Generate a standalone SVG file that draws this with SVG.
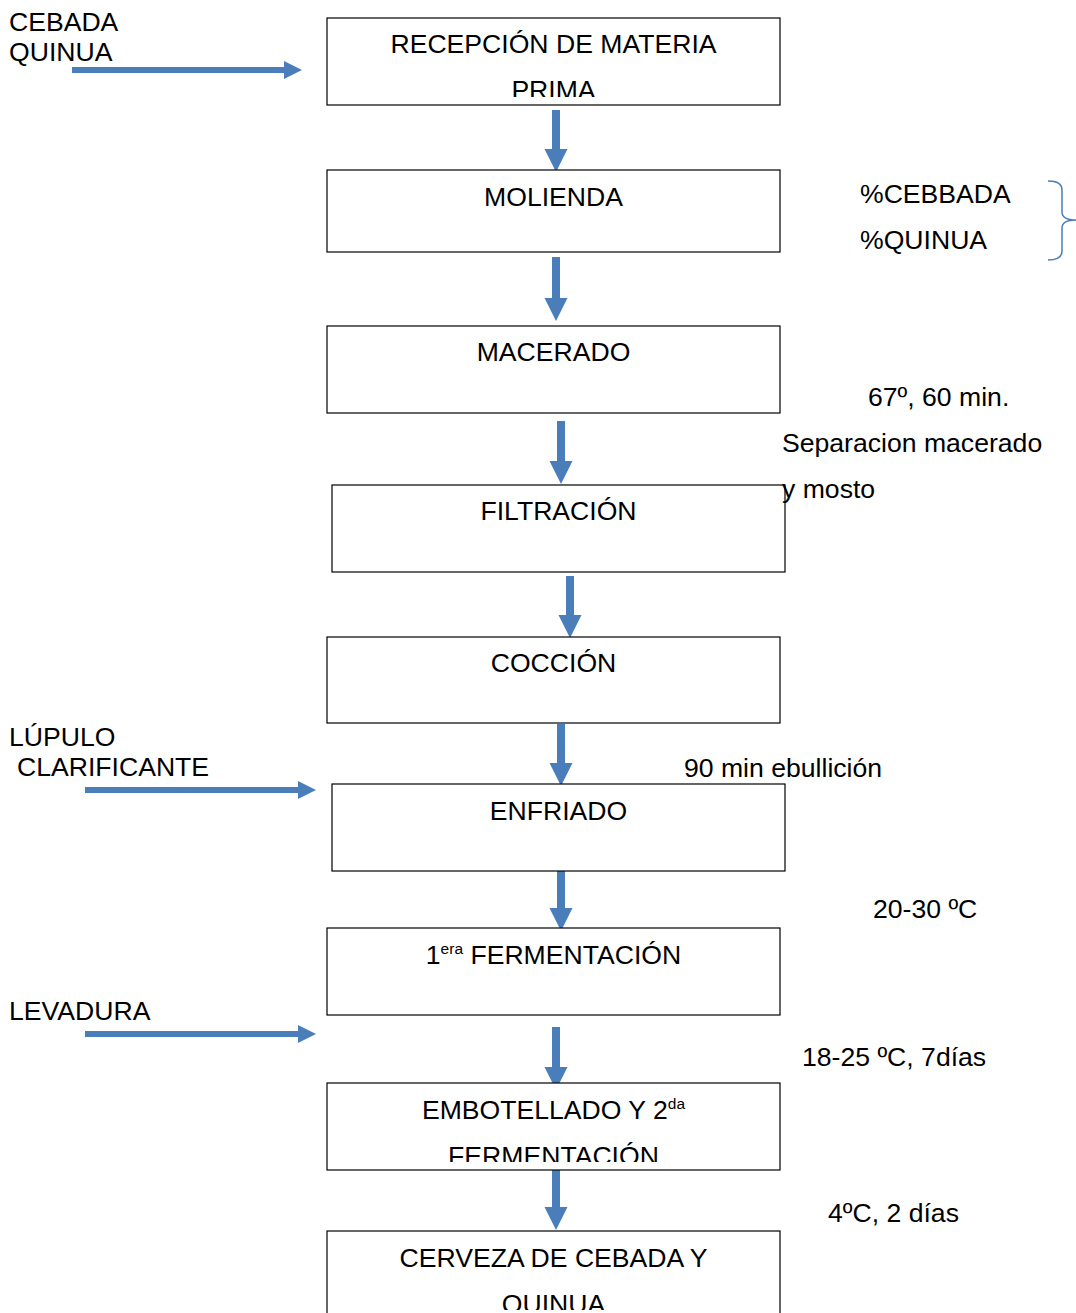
<svg xmlns="http://www.w3.org/2000/svg" width="1076" height="1313" viewBox="0 0 1076 1313">
<style>
text{font-family:"Liberation Sans",Arial,sans-serif;font-size:26.6px;fill:#000}
.c{text-anchor:middle}
.box{fill:#fff;stroke:#000;stroke-width:1.2}
.va{stroke:#4a7ebb;stroke-width:8;fill:none;marker-end:url(#hv)}
.ha{stroke:#4a7ebb;stroke-width:6;fill:none;marker-end:url(#hh)}
.sup{font-size:15.5px}
</style>
<defs>
<marker id="hv" markerUnits="userSpaceOnUse" markerWidth="23" markerHeight="24" refX="1" refY="12" orient="auto" viewBox="0 0 23 24"><path d="M0,0.5 L23,12 L0,23.5 z" fill="#4a7ebb"/></marker>
<marker id="hh" markerUnits="userSpaceOnUse" markerWidth="18" markerHeight="19" refX="1" refY="9.5" orient="auto" viewBox="0 0 18 19"><path d="M0,0.5 L18,9.5 L0,18.5 z" fill="#4a7ebb"/></marker>
<clipPath id="cp1"><rect x="327" y="18" width="453" height="79"/></clipPath>
<clipPath id="cp8"><rect x="327" y="1083" width="453" height="79"/></clipPath>
<clipPath id="cp9"><rect x="327" y="1231" width="453" height="79"/></clipPath>
</defs>

<g id="connectors">
<line class="va" x1="556" y1="110" x2="556" y2="150"/>
<line class="va" x1="556" y1="257" x2="556" y2="299"/>
<line class="va" x1="561" y1="421" x2="561" y2="462"/>
<line class="va" x1="570" y1="576" x2="570" y2="616"/>
<line class="va" x1="561" y1="724" x2="561" y2="764"/>
<line class="va" x1="561" y1="868" x2="561" y2="909"/>
<line class="va" x1="556" y1="1027" x2="556" y2="1068"/>
<line class="va" x1="556" y1="1167" x2="556" y2="1208"/>
<line class="ha" x1="72" y1="70" x2="285" y2="70"/>
<line class="ha" x1="85" y1="790" x2="299" y2="790"/>
<line class="ha" x1="85" y1="1034" x2="299" y2="1034"/>
<path d="M1048,181 Q1062,181 1062,190 L1062,212 Q1062,220 1076,220 Q1062,220 1062,228 L1062,251 Q1062,260 1048,260" fill="none" stroke="#4a7ebb" stroke-width="1.5"/>
</g>

<g id="n1"><rect class="box" x="327" y="18" width="453" height="87"/>
<g clip-path="url(#cp1)"><text class="c" x="553.5" y="53">RECEPCIÓN DE MATERIA</text><text class="c" x="553.5" y="99">PRIMA</text></g></g>
<g id="n2"><rect class="box" x="327" y="170" width="453" height="82"/><text class="c" x="553.5" y="206">MOLIENDA</text></g>
<g id="n3"><rect class="box" x="327" y="326" width="453" height="87"/><text class="c" x="553.5" y="361">MACERADO</text></g>
<g id="n4"><rect class="box" x="332" y="485" width="453" height="87"/><text class="c" x="558.5" y="520">FILTRACIÓN</text></g>
<g id="n5"><rect class="box" x="327" y="637" width="453" height="86"/><text class="c" x="553.5" y="672">COCCIÓN</text></g>
<g id="n6"><rect class="box" x="332" y="784" width="453" height="87"/><text class="c" x="558.5" y="820">ENFRIADO</text></g>
<g id="n7"><rect class="box" x="327" y="928" width="453" height="87"/><text class="c" x="553.5" y="964">1<tspan class="sup" dy="-10">era</tspan><tspan dy="10"> FERMENTACIÓN</tspan></text></g>
<g id="n8"><rect class="box" x="327" y="1083" width="453" height="87"/>
<g clip-path="url(#cp8)"><text class="c" x="553.5" y="1119">EMBOTELLADO Y 2<tspan class="sup" dy="-10">da</tspan></text><text class="c" x="553.5" y="1165">FERMENTACIÓN</text></g></g>
<g id="n9"><rect class="box" x="327" y="1231" width="453" height="100"/>
<g clip-path="url(#cp9)"><text class="c" x="553.5" y="1267">CERVEZA DE CEBADA Y</text><text class="c" x="553.5" y="1313">QUINUA</text></g></g>

<g id="labels">
<text x="9" y="31">CEBADA</text>
<text x="9" y="61">QUINUA</text>
<text x="9" y="746">LÚPULO</text>
<text x="17" y="776">CLARIFICANTE</text>
<text x="9" y="1020">LEVADURA</text>
<text x="860" y="203">%CEBBADA</text>
<text x="860" y="249">%QUINUA</text>
<text x="868" y="406">67º, 60 min.</text>
<text x="782" y="452">Separacion macerado</text>
<text x="782" y="498">y mosto</text>
<text x="684" y="777">90 min ebullición</text>
<text x="873" y="918">20-30 ºC</text>
<text x="802" y="1066">18-25 ºC, 7días</text>
<text x="828" y="1222">4ºC, 2 días</text>
</g>
</svg>
